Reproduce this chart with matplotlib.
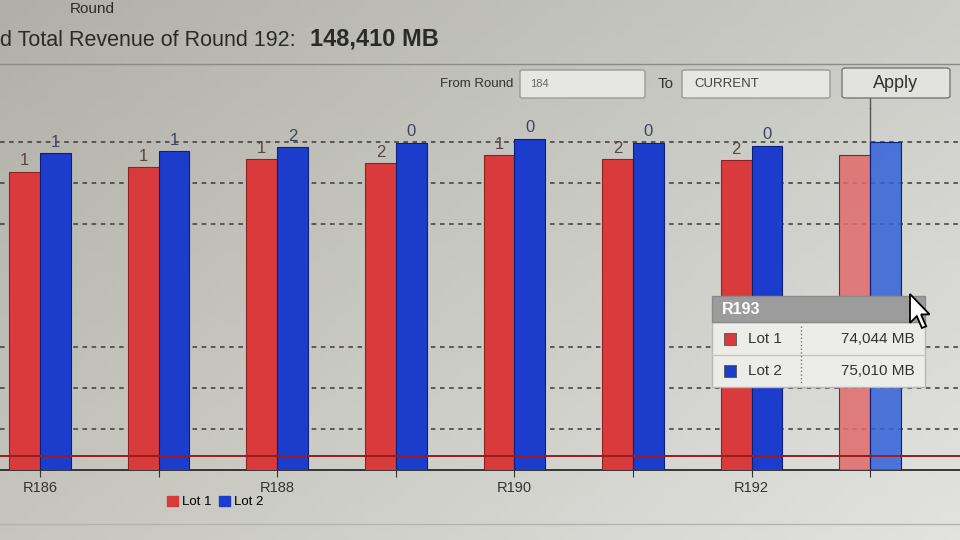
import numpy as np
import matplotlib.pyplot as plt
from matplotlib.patches import FancyBboxPatch, Rectangle, Polygon

# data (values in MB)
rounds = ['R186', 'R187', 'R188', 'R189', 'R190', 'R191', 'R192', 'R193']
tick_labels = ['R186', '', 'R188', '', 'R190', '', 'R192', '']
lot1 = [72850, 73150, 73750, 73450, 74050, 73750, 73680, 74044]
lot2 = [74200, 74350, 74650, 74950, 75250, 74950, 74730, 75010]
lot1_labels = ['1', '1', '1', '2', '1', '2', '2', '']
lot2_labels = ['1', '1', '2', '0', '0', '0', '0', '']
grid_values = [54000, 57000, 60000, 69000, 72000, 75000]
threshold = 52000
hover_idx = 7
total_text = 'd Total Revenue of Round 192:'
total_value = '148,410 MB'
from_round = '184'
to_round = 'CURRENT'

plt.rcParams['font.family'] = ['Liberation Sans', 'DejaVu Sans']

W, H = 960, 540


def fx(px):
    return px / W


def fy(py):
    return 1 - py / H


fig = plt.figure(figsize=(9.6, 5.4), dpi=100)
fig.patch.set_facecolor('#d6d6d0')

# soft lighting of the photographed screen
bg = fig.add_axes([0, 0, 1, 1], zorder=-10)
yy, xx = np.mgrid[0:1:60j, 0:1:100j]
tl = np.array([176, 176, 168]) / 255
tr = np.array([205, 205, 200]) / 255
bl = np.array([198, 198, 190]) / 255
br = np.array([226, 226, 224]) / 255
img = ((1 - xx)[..., None] * (1 - yy)[..., None] * tl + xx[..., None] * (1 - yy)[..., None] * tr
       + (1 - xx)[..., None] * yy[..., None] * bl + xx[..., None] * yy[..., None] * br)
bg.imshow(np.clip(img, 0, 1), extent=[0, 1, 0, 1], aspect='auto', origin='upper')
bg.axis('off')

# header
fig.text(fx(70), fy(2), 'Round', fontsize=11, color='#2a2a2a', va='top')
t1 = fig.text(fx(0), fy(40), total_text, fontsize=15.5, color='#2a2a2a', va='center')
fig.canvas.draw()
rend = fig.canvas.get_renderer()
bb = t1.get_window_extent(rend)
fig.text(bb.x1 / W + fx(14), fy(39), total_value, fontsize=17, fontweight='bold',
         color='#2a2a2a', va='center')
fig.add_artist(plt.Line2D([0, 1], [fy(64), fy(64)], color='#8a8a86', lw=1))

# range controls
def box(x0, y0, x1, y1, fc, ec, r=3):
    p = FancyBboxPatch((fx(x0), fy(y1)), fx(x1 - x0), (y1 - y0) / H,
                       boxstyle=f'round,pad=0,rounding_size={r / W}',
                       transform=fig.transFigure, fc=fc, ec=ec, lw=1)
    fig.add_artist(p)


fig.text(fx(513), fy(84), 'From Round', fontsize=9.5, color='#333', ha='right', va='center')
box(520, 70, 645, 98, '#e6e6e2', '#9a9a96')
fig.text(fx(530), fy(84), from_round, fontsize=8, color='#666', va='center')
fig.text(fx(666), fy(84), 'To', fontsize=11, color='#333', ha='center', va='center')
box(682, 70, 830, 98, '#e6e6e2', '#9a9a96')
fig.text(fx(694), fy(84), to_round, fontsize=9.5, color='#444', va='center')
box(842, 68, 950, 98, '#e2e2e0', '#777', r=4)
fig.text(fx(896), fy(83), 'Apply', fontsize=13, color='#333', ha='center', va='center')

# chart
ax = fig.add_axes([0, fy(470), 1, (470 - 108) / H])
ax.set_facecolor('none')
x = np.arange(len(rounds))
w = 0.26

c1 = [(0.85, 0.23, 0.24, 1.0)] * len(rounds)
c2 = [(0.11, 0.24, 0.80, 1.0)] * len(rounds)
c1[hover_idx] = (0.88, 0.42, 0.42, 0.85)
c2[hover_idx] = (0.20, 0.38, 0.85, 0.85)

for g in grid_values:
    ax.axhline(g, color='#3a3a3a', lw=1.1, ls=(0, (3, 3)), zorder=1)
ax.axvline(x[hover_idx], color='#555', lw=1, zorder=2)
ax.plot([x[hover_idx]] * 2, [1.0, 1.11], transform=ax.get_xaxis_transform(),
        color='#555', lw=1, clip_on=False)

ax.bar(x - w / 2, lot1, w, color=c1, edgecolor='#8e2020', lw=0.8, zorder=3, label='Lot 1')
ax.bar(x + w / 2, lot2, w, color=c2, edgecolor='#0c1f7a', lw=0.8, zorder=3, label='Lot 2')

for i in range(len(rounds)):
    ax.text(x[i] - w / 2, lot1[i] + 250, lot1_labels[i], ha='center', va='bottom',
            fontsize=12, color='#5a4444')
    ax.text(x[i] + w / 2, lot2[i] + 250, lot2_labels[i], ha='center', va='bottom',
            fontsize=12, color='#3c4660')

ax.axhline(threshold, color='#9b1c1c', lw=1.4, zorder=4)

ax.set_xlim(-0.337, 7.757)
ax.set_ylim(51000, 77500)
ax.set_xticks(x)
ax.set_xticklabels(tick_labels, fontsize=10.5, color='#333')
ax.tick_params(axis='x', length=5, color='#333', pad=3)
ax.tick_params(left=False, labelleft=False)
for s in ['top', 'left', 'right']:
    ax.spines[s].set_visible(False)
ax.spines['bottom'].set_color('#2a2a2a')
ax.spines['bottom'].set_linewidth(1.3)

fig.legend(handles=[Rectangle((0, 0), 1, 1, color='#d83a3c'), Rectangle((0, 0), 1, 1, color='#1c3dcc')],
           labels=['Lot 1', 'Lot 2'], loc='center', bbox_to_anchor=(fx(215), fy(502)),
           ncol=2, frameon=False, fontsize=9.5, handlelength=0.8, handleheight=0.8,
           columnspacing=0.6, handletextpad=0.3)

# faint frame edge under the chart
fig.add_artist(plt.Line2D([0, 1], [fy(524), fy(524)], color='#b4b4ae', lw=1))

# hover tooltip
fig.add_artist(Rectangle((fx(712), fy(387)), fx(213), (387 - 322) / H, transform=fig.transFigure,
                         fc='#ecece9', ec='#b8b8b4', lw=1, zorder=10))
fig.add_artist(Rectangle((fx(712), fy(322)), fx(213), (322 - 296) / H, transform=fig.transFigure,
                         fc='#9c9c9c', ec='#8a8a8a', lw=1, zorder=10))
fig.text(fx(722), fy(309), rounds[hover_idx], fontsize=11.5, fontweight='bold', color='white',
         va='center', zorder=11)
fig.add_artist(plt.Line2D([fx(712), fx(925)], [fy(355), fy(355)], color='#c4c4c0', lw=1,
                          transform=fig.transFigure, zorder=11))
fig.add_artist(plt.Line2D([fx(801), fx(801)], [fy(326), fy(385)], color='#777', lw=1, ls=':',
                          transform=fig.transFigure, zorder=11))
for row_y, col, name, val in [(339, '#d83a3c', 'Lot 1', lot1[hover_idx]),
                              (371, '#1c3dcc', 'Lot 2', lot2[hover_idx])]:
    fig.add_artist(Rectangle((fx(724), fy(row_y + 6)), fx(12), 12 / H, transform=fig.transFigure,
                             fc=col, ec='#555', lw=0.6, zorder=11))
    fig.text(fx(748), fy(row_y), name, fontsize=11, color='#333', va='center', zorder=11)
    fig.text(fx(915), fy(row_y), f'{val:,} MB', fontsize=11, color='#333', va='center',
             ha='right', zorder=11)

# mouse pointer
arrow = np.array([(0, 0), (0, 17), (4, 13), (7, 20), (9.5, 19), (6.5, 12), (11.5, 12)]) * 1.7
arrow = arrow + np.array([910, 294])
fig.add_artist(Polygon(np.column_stack([arrow[:, 0] / W, 1 - arrow[:, 1] / H]), closed=True,
                       transform=fig.transFigure, fc='white', ec='black', lw=1.3, zorder=12))

fig.savefig('out.png', dpi=100, facecolor=fig.get_facecolor())
